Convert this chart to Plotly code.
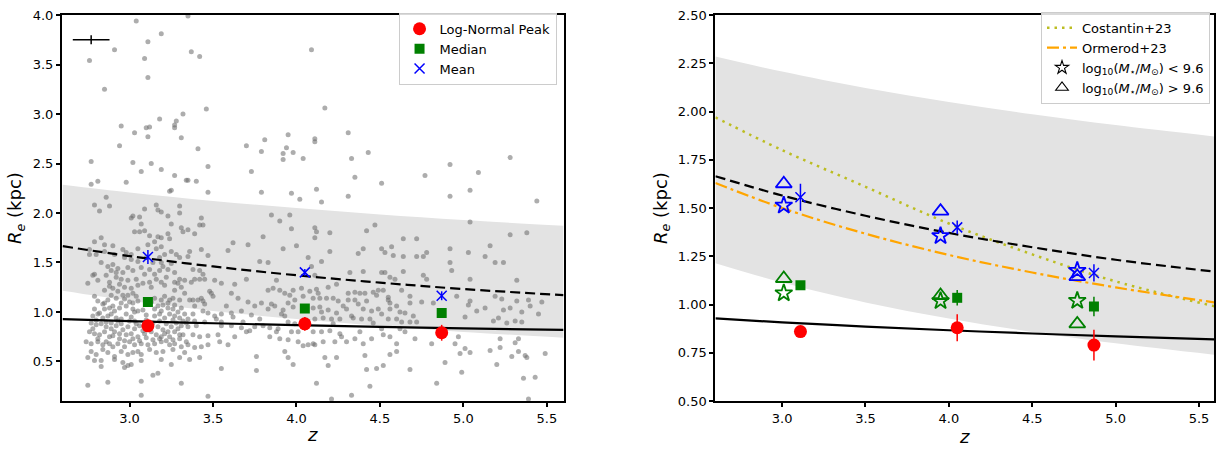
import plotly.graph_objects as go

# ---- redshift grid for the model curves ----
curve_z = [2.6, 3.0, 3.5, 4.0, 4.5, 5.0, 5.6]
fit_peak = [0.928, 0.908, 0.886, 0.867, 0.850, 0.835, 0.819]      # solid
fit_mean = [1.665, 1.565, 1.460, 1.371, 1.297, 1.232, 1.170]      # dashed
band_hi = [2.285, 2.207, 2.122, 2.050, 1.986, 1.930, 1.870]
band_lo = [1.214, 1.114, 1.011, 0.928, 0.858, 0.799, 0.739]
costantin23 = [1.97, 1.80, 1.61, 1.42, 1.26, 1.12, 0.99]
ormerod23 = [1.630, 1.500, 1.367, 1.257, 1.166, 1.089, 1.010]

# ---- binned statistics ----
z_bins = [3.11, 4.05, 4.87]
peak = [0.86, 0.88, 0.79]
peak_err = [0.02, 0.07, 0.08]
median = [1.10, 1.035, 0.99]
median_err = [0.02, 0.04, 0.05]
mean = [1.556, 1.40, 1.164]
mean_err = [0.07, 0.035, 0.045]

# mass-split statistics (plotted slightly left of each bin)
z_split = [3.01, 3.95, 4.77]
mean_low_mass = [1.514, 1.356, 1.176]
mean_high_mass = [1.626, 1.484, 1.145]
median_low_mass = [1.059, 1.019, 1.02]
median_high_mass = [1.135, 1.047, 0.90]

# typical uncertainty
typ_z, typ_re, typ_dz, typ_dre = 2.77, 3.75, 0.11, 0.045

# ---- individual galaxies ----
field_z = [
    2.76, 2.85, 2.91, 2.95, 2.94, 3.03, 3.04, 3.09, 3.10, 3.11, 3.11, 3.11, 3.12, 3.18, 3.19,
    3.27, 3.27, 3.28, 3.31, 3.32, 3.35, 3.37, 3.41, 3.42, 3.46, 3.70, 3.81, 3.94, 3.95,
    4.09, 4.17, 4.11, 4.11, 4.31,
    2.77, 3.02, 3.19, 3.07, 3.27, 3.13, 2.81, 2.77, 2.98, 3.25, 3.24, 3.34, 2.86, 2.79, 2.88,
    2.82, 3.01, 3.02, 3.09, 3.16, 3.17, 3.19, 3.30, 3.30, 3.23, 3.06, 3.07, 3.25, 3.03, 3.06,
    3.09, 3.12, 3.17, 3.19, 3.23, 3.15, 3.24, 3.31, 3.32, 2.83, 2.85, 2.90, 2.79, 2.76, 2.76,
    2.80, 2.85, 2.91, 2.96, 2.97, 3.01, 3.05, 3.11, 3.16, 3.19, 3.21, 3.25, 3.28, 3.30, 3.18,
    3.19, 3.14, 3.05, 3.01, 2.83, 2.87, 2.89, 2.90, 2.93, 2.96, 2.99, 3.02, 3.07, 3.12, 3.15,
    3.18, 3.23, 3.27, 3.30, 3.33, 2.79, 2.75, 2.78, 2.81, 2.86, 2.88, 2.92, 2.95, 2.99, 3.04,
    3.08, 3.12, 3.16, 3.19, 3.22, 3.27, 3.29, 3.31, 2.85, 2.90, 2.97, 3.01, 2.79, 2.81, 2.85,
    2.89, 2.92, 2.96, 2.99, 3.02, 3.04, 2.95, 2.98, 3.02, 3.05, 3.21, 3.19, 3.23, 3.26, 3.30,
    3.33, 3.17, 2.85, 2.88, 2.91, 2.94, 3.02, 3.05, 3.15, 3.19, 3.23, 3.26, 3.31, 2.79, 2.78,
    2.81, 2.84, 2.87, 2.89, 2.92, 2.95, 2.98, 3.01, 3.03, 3.15, 3.18, 3.21, 3.24, 3.27, 3.30,
    3.33, 2.77, 2.80, 2.83, 2.86, 2.89, 2.92, 2.95, 2.99, 3.03, 3.06, 3.14, 3.17, 3.19, 3.22,
    3.25, 3.28, 3.31, 3.34, 2.76, 2.79, 2.82, 2.85, 2.88, 2.91, 2.94, 2.98, 3.01, 3.05, 3.09,
    3.13, 3.16, 3.21, 3.24, 3.27, 3.30, 3.32, 2.74, 2.77, 2.81, 2.84, 2.88, 2.90, 2.93, 2.97,
    3.00, 3.03, 3.07, 3.11, 3.15, 3.19, 3.24, 3.27, 3.31, 3.34, 2.77, 2.80, 2.84, 2.87, 2.91,
    2.95, 2.99, 3.02, 3.05, 3.07, 3.12, 3.16, 3.20, 3.26, 3.30, 3.33, 2.75, 2.83, 2.91, 2.96,
    3.01, 2.99, 3.07, 3.19, 2.83, 2.97, 3.17, 3.14, 2.75, 2.87, 3.07, 3.07, 3.31, 2.79, 3.25,
    2.87, 2.90, 2.93, 2.97, 3.00, 3.03, 3.08, 3.10, 3.13, 3.15, 3.20, 3.24, 3.27, 3.29, 2.84,
    2.82, 2.80, 2.86, 2.89, 2.93, 2.96, 3.00, 3.04, 3.08, 3.10, 3.13, 3.18, 3.20, 3.23, 3.26,
    3.29, 3.32, 2.78, 2.81, 2.86, 2.90, 2.94, 2.97, 3.02, 3.06, 3.10, 3.14, 3.18, 3.22, 3.26,
    3.30, 2.88, 2.94, 3.05, 3.13, 3.21, 3.27, 2.92, 3.09, 3.20, 3.25, 3.10, 2.98,
    3.47, 3.40, 3.73, 3.79, 3.92, 3.98, 4.04, 3.92, 3.47, 3.79, 3.97, 4.02, 3.35, 3.43, 3.42,
    3.44, 3.39, 3.35, 3.85, 3.90, 3.96, 3.97, 3.80, 3.62, 3.71, 4.00, 3.92, 3.59, 3.43, 3.47,
    3.78, 3.83, 4.07, 4.09, 3.35, 3.36, 3.38, 3.42, 3.44, 3.37, 3.39, 3.42, 3.45, 3.51, 3.55,
    3.63, 3.70, 3.88, 3.83, 3.86, 3.90, 3.93, 3.96, 3.98, 4.03, 4.08, 4.04, 3.99, 3.95, 3.43,
    3.44, 3.41, 3.38, 3.48, 3.49, 3.61, 3.65, 3.71, 3.75, 3.79, 3.83, 3.87, 3.91, 3.93, 3.39,
    3.44, 3.47, 3.51, 3.55, 3.61, 3.67, 3.35, 3.39, 3.45, 3.52, 3.55, 3.61, 3.67, 3.70, 3.72,
    3.75, 3.80, 3.84, 3.89, 3.88, 3.95, 3.99, 3.97, 3.35, 3.38, 3.42, 3.47, 3.53, 3.59, 3.63,
    3.84, 3.90, 3.95, 4.01, 4.04, 4.07, 4.10, 3.35, 3.39, 3.43, 3.47, 3.54, 3.36, 3.42, 3.93,
    3.95, 3.98, 3.76, 3.55, 3.76, 3.47, 4.01,
    3.36, 3.38, 3.40, 3.45, 3.50, 3.55, 3.58, 3.62, 3.68, 3.73, 3.78, 3.85, 3.92, 3.98,
    4.33, 4.43, 4.35, 4.51, 4.77, 4.12, 4.31, 4.15, 4.11, 4.12, 4.11, 4.20, 4.42, 4.47, 4.64,
    4.72, 4.40, 4.37, 4.51, 4.53, 4.57, 4.58, 4.64, 4.72, 4.76, 4.78, 4.15, 4.20, 4.11, 4.32,
    4.40, 4.51, 4.53, 4.56, 4.59, 4.64, 4.76, 4.78, 4.12, 4.13, 4.19, 4.24, 4.31, 4.35, 4.38,
    4.41, 4.46, 4.49, 4.52, 4.63, 4.68, 4.10, 4.14, 4.18, 4.22, 4.25, 4.31, 4.35, 4.42, 4.48,
    4.55, 4.56, 4.68, 4.75, 4.82, 4.10, 4.14, 4.19, 4.24, 4.30, 4.33, 4.40, 4.45, 4.49, 4.56,
    4.60, 4.65, 4.11, 4.16, 4.21, 4.26, 4.34, 4.39, 4.44, 4.51, 4.55, 4.60, 4.63, 4.68, 4.72,
    4.10, 4.15, 4.20, 4.26, 4.27, 4.30, 4.35, 4.38, 4.40, 4.45, 4.51, 4.52, 4.56, 4.60, 4.62,
    4.65, 4.71, 4.81, 4.11, 4.16, 4.23, 4.24, 4.19, 4.17, 4.41, 4.42, 4.48, 4.52, 4.56, 4.60,
    4.68, 4.12, 4.33, 4.44, 4.84, 4.21,
    4.15, 4.22, 4.28, 4.37, 4.46, 4.55, 4.62, 4.70,
    4.92, 5.09, 5.28, 5.04, 4.92, 5.44, 5.04, 5.28, 5.38, 5.16, 4.92, 5.03, 5.13, 5.19, 5.24,
    4.92, 4.93, 5.04, 5.32, 4.96, 5.04, 5.03, 5.13, 5.08, 5.19, 5.23, 5.32, 5.39, 5.47, 5.01,
    5.18, 5.21, 5.24, 5.28, 5.35, 5.40, 5.45, 5.31, 5.35, 5.26, 4.89, 4.97, 4.95, 5.01, 4.98,
    5.04, 5.16, 5.22, 5.22, 5.31, 5.33, 5.29, 5.33, 5.37, 5.38, 5.49, 4.89, 5.20, 4.99, 5.36,
    5.43, 5.39,
]
field_re = [
    3.54, 3.25, 3.65, 2.88, 2.68, 2.81, 3.94, 3.56, 2.86, 3.37, 3.73, 2.77, 2.87, 2.95, 3.81,
    2.89, 2.86, 2.93, 2.76, 3.00, 3.99, 3.63, 2.65, 3.58, 3.05, 2.68, 2.74, 2.66, 2.79,
    3.65, 3.06, 2.75, 2.72, 2.81,
    2.52, 2.51, 2.44, 2.42, 2.38, 2.50, 2.32, 2.29, 2.31, 2.23, 2.22, 2.33, 2.16, 2.08, 2.07,
    2.02, 1.95, 1.97, 2.04, 2.08, 2.03, 2.01, 2.07, 2.00, 1.97, 1.96, 1.89, 1.89, 1.81, 1.81,
    1.82, 1.77, 1.76, 1.75, 1.79, 1.71, 1.74, 1.85, 1.81, 1.75, 1.68, 1.67, 1.71, 1.58, 1.63,
    1.58, 1.61, 1.58, 1.63, 1.55, 1.58, 1.64, 1.68, 1.64, 1.66, 1.58, 1.61, 1.58, 1.55, 1.55,
    1.50, 1.50, 1.51, 1.53, 1.50, 1.46, 1.42, 1.48, 1.44, 1.40, 1.45, 1.42, 1.45, 1.43, 1.38,
    1.42, 1.43, 1.40, 1.33, 1.32, 1.38, 1.29, 1.37, 1.32, 1.37, 1.30, 1.35, 1.33, 1.32, 1.33,
    1.29, 1.30, 1.33, 1.30, 1.35, 1.30, 1.29, 1.25, 1.22, 1.24, 1.25, 1.24, 1.16, 1.11, 1.09,
    1.17, 1.14, 1.17, 1.17, 1.19, 1.16, 1.09, 1.06, 1.09, 1.11, 1.16, 1.12, 1.09, 1.14, 1.12,
    1.19, 1.06, 1.03, 1.04, 1.01, 1.04, 1.03, 1.01, 1.03, 1.01, 1.04, 1.03, 1.04, 1.03, 0.96,
    0.98, 0.94, 0.96, 0.98, 0.94, 0.93, 0.98, 0.95, 0.91, 0.96, 0.98, 0.94, 0.98, 0.96, 0.94,
    0.98, 0.89, 0.87, 0.88, 0.85, 0.89, 0.86, 0.88, 0.85, 0.83, 0.86, 0.89, 0.85, 0.75, 0.88,
    0.85, 0.89, 0.86, 0.89, 0.80, 0.78, 0.77, 0.80, 0.75, 0.80, 0.73, 0.77, 0.78, 0.75, 0.78,
    0.80, 0.77, 0.78, 0.75, 0.80, 0.73, 0.77, 0.70, 0.68, 0.70, 0.67, 0.68, 0.65, 0.68, 0.65,
    0.70, 0.67, 0.68, 0.67, 0.68, 0.70, 0.67, 0.68, 0.65, 0.70, 0.60, 0.57, 0.62, 0.59, 0.55,
    0.60, 0.57, 0.59, 0.60, 0.57, 0.62, 0.59, 0.60, 0.62, 0.54, 0.59, 0.54, 0.51, 0.52, 0.49,
    0.47, 0.46, 0.51, 0.52, 0.45, 0.44, 0.38, 0.36, 0.26, 0.29, 0.30, 0.16, 0.28, 0.51, 0.47,
    1.12, 1.06, 1.21, 1.13, 1.10, 1.00, 1.02, 0.97, 1.10, 1.14, 1.07, 1.12, 1.07, 1.00, 1.08,
    0.99, 0.92, 0.90, 0.83, 0.91, 0.82, 0.91, 0.88, 0.81, 0.92, 0.84, 0.91, 0.82, 0.80, 0.92,
    0.83, 0.91, 0.83, 0.73, 0.70, 0.76, 0.78, 0.71, 0.73, 0.71, 0.74, 0.72, 0.73, 0.71, 0.72,
    0.77, 1.26, 1.28, 1.27, 1.25, 1.27, 1.22, 1.40, 1.38, 1.46, 1.49, 1.55, 1.60,
    2.47, 2.32, 2.42, 2.62, 2.60, 2.61, 2.55, 2.54, 2.21, 2.21, 2.20, 2.14, 2.33, 1.95, 1.88,
    1.88, 1.79, 1.83, 1.98, 1.92, 1.98, 1.84, 1.76, 1.70, 1.68, 1.67, 1.64, 1.62, 1.63, 1.57,
    1.51, 1.50, 1.55, 1.46, 1.56, 1.61, 1.43, 1.42, 1.38, 1.30, 1.33, 1.33, 1.33, 1.32, 1.29,
    1.28, 1.33, 1.32, 1.22, 1.24, 1.22, 1.19, 1.17, 1.22, 1.24, 1.21, 1.16, 1.12, 1.09, 1.14,
    1.11, 1.12, 1.12, 1.21, 1.19, 1.19, 1.14, 1.10, 1.06, 1.09, 1.03, 1.06, 0.98, 0.96, 1.06,
    1.01, 0.99, 0.96, 0.98, 0.99, 1.01, 0.93, 0.91, 0.90, 0.93, 0.86, 0.86, 0.84, 0.80, 0.81,
    0.85, 0.86, 0.84, 0.83, 0.80, 0.90, 0.88, 0.80, 0.85, 0.77, 0.75, 0.76, 0.77, 0.67, 0.75,
    0.75, 0.73, 0.72, 0.70, 0.66, 0.67, 0.68, 0.67, 0.64, 0.65, 0.67, 0.70, 0.52, 0.54, 0.60,
    0.54, 0.47, 0.55, 0.43, 0.41, 0.15, 0.80,
    1.12, 0.98, 0.86, 1.08, 1.16, 0.90, 1.06, 0.95, 0.90, 0.97, 0.93, 1.08, 1.02, 1.05,
    2.55, 2.61, 2.36, 2.30, 2.38, 2.24, 2.17, 2.11, 1.85, 1.81, 1.75, 1.80, 1.82, 1.88, 1.74,
    1.74, 1.64, 1.59, 1.64, 1.60, 1.66, 1.57, 1.56, 1.56, 1.56, 1.60, 1.51, 1.61, 1.37, 1.40,
    1.41, 1.40, 1.40, 1.35, 1.33, 1.41, 1.37, 1.33, 1.23, 1.19, 1.25, 1.28, 1.19, 1.20, 1.19,
    1.19, 1.20, 1.22, 1.22, 1.22, 1.16, 1.14, 1.14, 1.14, 1.14, 1.11, 1.12, 1.12, 1.11, 1.17,
    1.12, 1.09, 1.09, 1.10, 1.09, 1.04, 1.05, 1.02, 0.99, 1.03, 0.96, 1.03, 1.01, 1.03, 1.03,
    1.06, 0.99, 0.93, 0.94, 0.93, 0.93, 0.94, 0.93, 0.93, 0.98, 0.93, 0.93, 0.90, 0.90, 0.90,
    0.80, 0.80, 0.81, 0.78, 0.75, 0.70, 0.73, 0.80, 0.68, 0.73, 0.83, 0.77, 0.75, 0.68, 0.83,
    0.80, 0.73, 0.68, 0.67, 0.70, 0.70, 0.54, 0.46, 0.54, 0.56, 0.42, 0.43, 0.46, 0.57, 0.60,
    0.42, 0.28, 0.16, 0.25, 0.28, 0.12,
    1.00, 0.88, 1.06, 1.08, 0.89, 1.15, 1.00, 0.96,
    2.49, 2.41, 2.56, 2.23, 2.17, 2.12, 1.91, 1.78, 1.80, 1.67, 1.64, 1.60, 1.56, 1.50, 1.50,
    1.50, 1.42, 1.33, 1.32, 1.16, 1.11, 1.07, 1.04, 1.01, 1.16, 1.13, 1.11, 1.12, 1.10, 0.95,
    0.91, 0.94, 1.02, 1.04, 1.00, 1.06, 0.98, 0.91, 0.90, 0.89, 0.81, 0.75, 0.68, 0.63, 0.58,
    0.59, 0.61, 0.73, 0.64, 0.69, 0.73, 0.55, 0.60, 0.56, 0.54, 0.58, 0.49, 0.47, 0.39, 0.33,
    0.34, 0.12,
]

RED, GREEN, BLUE = "#ff0000", "#008000", "#0000ff"
FONT = "DejaVu Sans"

fig = go.Figure()


def add_band(fig, xa, ya):
    # shaded scatter band around the mean relation
    fig.add_trace(go.Scatter(x=curve_z, y=band_hi, mode="lines", line=dict(width=0, shape="spline"),
                             hoverinfo="skip", showlegend=False, xaxis=xa, yaxis=ya))
    fig.add_trace(go.Scatter(x=curve_z, y=band_lo, mode="lines", line=dict(width=0, shape="spline"),
                             fill="tonexty", fillcolor="#e3e3e3",
                             hoverinfo="skip", showlegend=False, xaxis=xa, yaxis=ya))


def add_fits(fig, xa, ya):
    fig.add_trace(go.Scatter(x=curve_z, y=fit_mean, mode="lines",
                             line=dict(color="black", width=2.2, dash="10px,5px", shape="spline"),
                             showlegend=False, xaxis=xa, yaxis=ya))
    fig.add_trace(go.Scatter(x=curve_z, y=fit_peak, mode="lines",
                             line=dict(color="black", width=2.2, shape="spline"),
                             showlegend=False, xaxis=xa, yaxis=ya))


def add_bins(fig, xa, ya, legend):
    show = legend is not None
    kw = dict(xaxis=xa, yaxis=ya, showlegend=show)
    if show:
        kw["legend"] = legend
    fig.add_trace(go.Scatter(x=z_bins, y=peak, mode="markers", name="Log-Normal Peak",
                             marker=dict(color=RED, size=13, symbol="circle"),
                             error_y=dict(type="data", array=peak_err, color=RED, thickness=1.5, width=0),
                             **kw))
    fig.add_trace(go.Scatter(x=z_bins, y=median, mode="markers", name="Median",
                             marker=dict(color=GREEN, size=10, symbol="square"),
                             error_y=dict(type="data", array=median_err, color=GREEN, thickness=1.5, width=0),
                             **kw))
    fig.add_trace(go.Scatter(x=z_bins, y=mean, mode="markers", name="Mean",
                             marker=dict(color=BLUE, size=10, symbol="x-thin", line=dict(color=BLUE, width=1.5)),
                             error_y=dict(type="data", array=mean_err, color=BLUE, thickness=1.5, width=0),
                             **kw))


# ---------------- left panel ----------------
add_band(fig, "x", "y")
fig.add_trace(go.Scatter(x=field_z, y=field_re, mode="markers",
                         marker=dict(color="rgba(105,105,105,0.55)", size=5),
                         showlegend=False, hoverinfo="skip", xaxis="x", yaxis="y"))
add_fits(fig, "x", "y")
add_bins(fig, "x", "y", "legend")
fig.add_trace(go.Scatter(x=[typ_z], y=[typ_re], mode="markers",
                         marker=dict(size=1, color="rgba(0,0,0,0)"),
                         error_x=dict(type="data", array=[typ_dz], color="black", thickness=1.5, width=0),
                         error_y=dict(type="data", array=[typ_dre], color="black", thickness=1.5, width=0),
                         showlegend=False, xaxis="x", yaxis="y"))

# ---------------- right panel ----------------
add_band(fig, "x2", "y2")
fig.add_trace(go.Scatter(x=curve_z, y=costantin23, mode="lines", name="Costantin+23",
                         line=dict(color="#bcbd22", width=2.5, dash="2.5px,5px", shape="spline"),
                         legend="legend2", xaxis="x2", yaxis="y2"))
fig.add_trace(go.Scatter(x=curve_z, y=ormerod23, mode="lines", name="Ormerod+23",
                         line=dict(color="#ffa500", width=2.2, dash="12px,4px,3px,4px", shape="spline"),
                         legend="legend2", xaxis="x2", yaxis="y2"))
add_fits(fig, "x2", "y2")
add_bins(fig, "x2", "y2", None)

for ys, col in [(mean_low_mass, BLUE), (median_low_mass, GREEN)]:
    fig.add_trace(go.Scatter(x=z_split, y=ys, mode="markers",
                             marker=dict(symbol="star-open", size=13, color=col, line=dict(color=col, width=1.8)),
                             showlegend=False, xaxis="x2", yaxis="y2"))
for ys, col in [(mean_high_mass, BLUE), (median_high_mass, GREEN)]:
    fig.add_trace(go.Scatter(x=z_split, y=ys, mode="markers",
                             marker=dict(symbol="triangle-up-open", size=14, color=col, line=dict(color=col, width=1.8)),
                             showlegend=False, xaxis="x2", yaxis="y2"))

# legend keys for the mass split
fig.add_trace(go.Scatter(x=[None], y=[None], mode="markers",
                         name="log<sub>10</sub>(<i>M</i><sub>⋆</sub>/<i>M</i><sub>⊙</sub>) &lt; 9.6",
                         marker=dict(symbol="star-open", size=10, color="black", line=dict(color="black", width=1.1)),
                         legend="legend2", xaxis="x2", yaxis="y2"))
fig.add_trace(go.Scatter(x=[None], y=[None], mode="markers",
                         name="log<sub>10</sub>(<i>M</i><sub>⋆</sub>/<i>M</i><sub>⊙</sub>) &gt; 9.6",
                         marker=dict(symbol="triangle-up-open", size=11, color="black", line=dict(color="black", width=1.1)),
                         legend="legend2", xaxis="x2", yaxis="y2"))

axis_style = dict(showline=True, linecolor="black", linewidth=2, mirror=True,
                  ticks="outside", ticklen=4, tickwidth=1.5, tickcolor="black",
                  showgrid=False, zeroline=False,
                  tickfont=dict(family=FONT, size=13, color="black"))
ydom = [1 - 407.7 / 449, 1 - 8.3 / 449]
legend_style = dict(xanchor="right", yanchor="top", traceorder="normal",
                    bgcolor="rgba(255,255,255,0.85)", bordercolor="#cccccc", borderwidth=1,
                    font=dict(family=FONT, size=13), itemwidth=30, tracegroupgap=0)
x_title = dict(text="<i>z</i>", font=dict(size=18), standoff=4)
y_title = dict(text="<i>R<sub>e</sub></i> (kpc)", font=dict(size=18), standoff=6)

fig.update_layout(
    width=1216, height=449,
    margin=dict(l=0, r=0, t=0, b=0),
    paper_bgcolor="white", plot_bgcolor="white",
    font=dict(family=FONT, size=13, color="black"),
    xaxis=dict(domain=[62 / 1216, 564 / 1216], range=[2.595, 5.6], dtick=0.5, tick0=3.0,
               tickformat=".1f", title=x_title, anchor="y", **axis_style),
    yaxis=dict(domain=ydom, range=[0.1, 4.0], dtick=0.5, tick0=0.5, tickformat=".1f",
               title=y_title, anchor="x", **axis_style),
    xaxis2=dict(domain=[716 / 1216, 1215 / 1216], range=[2.6, 5.59], dtick=0.5, tick0=3.0,
                tickformat=".1f", title=x_title, anchor="y2", **axis_style),
    yaxis2=dict(domain=ydom, range=[0.5, 2.5], dtick=0.25, tick0=0.5, tickformat=".2f",
                title=y_title, anchor="x2", **axis_style),
    legend=dict(x=557 / 1216, y=1 - 6 / 449, **legend_style),
    legend2=dict(x=1211 / 1216, y=1 - 5 / 449, **legend_style),
)

fig.write_html("out.html")
